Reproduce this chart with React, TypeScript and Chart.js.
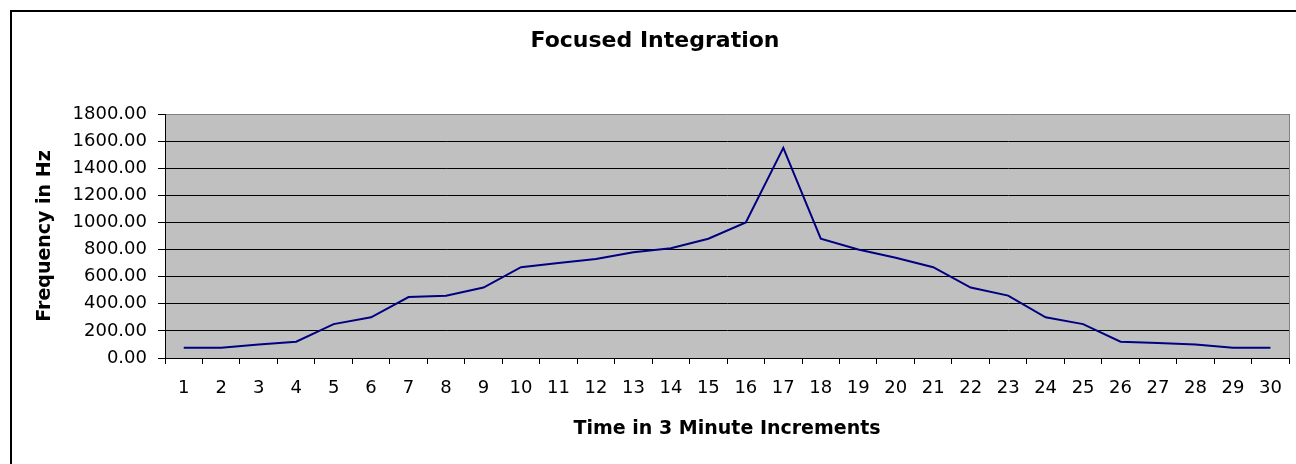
import React, { useEffect, useRef } from 'react';
import { Chart, registerables } from 'chart.js';

Chart.register(...registerables);

const CHART_TITLE = 'Focused Integration';
const X_TITLE = 'Time in 3 Minute Increments';
const Y_TITLE = 'Frequency in Hz';

const timeSteps = [
  '1', '2', '3', '4', '5', '6', '7', '8', '9', '10',
  '11', '12', '13', '14', '15', '16', '17', '18', '19', '20',
  '21', '22', '23', '24', '25', '26', '27', '28', '29', '30',
];

const frequencyHz = [
  75, 75, 100, 120, 250, 300, 450, 460, 520, 670,
  700, 730, 780, 810, 880, 1000, 1550, 880, 800, 740,
  670, 520, 460, 300, 250, 120, 110, 100, 75, 75,
];

const Y_MIN = 0;
const Y_MAX = 1800;
const Y_STEP = 200;

const FONT = "'DejaVu Sans', sans-serif";
const W = 1296;
const H = 464;

const framePlugin = {
  id: 'frame',
  beforeDraw(chart: any) {
    const { ctx, chartArea: a } = chart;
    ctx.save();
    ctx.fillStyle = '#ffffff';
    ctx.fillRect(0, 0, chart.width, chart.height);
    ctx.fillStyle = '#c0c0c0';
    ctx.fillRect(a.left, a.top, a.right - a.left, a.bottom - a.top);
    ctx.fillStyle = '#000000';
    ctx.fillRect(10, 10, 2, chart.height);
    ctx.fillRect(10, 10, chart.width, 2);
    ctx.restore();
  },
  beforeDatasetsDraw(chart: any) {
    const { ctx, chartArea: a } = chart;
    ctx.save();
    ctx.strokeStyle = '#808080';
    ctx.lineWidth = 1;
    ctx.beginPath();
    const x = Math.round(a.right) + 0.5;
    ctx.moveTo(x, a.top);
    ctx.lineTo(x, a.bottom);
    ctx.stroke();
    ctx.restore();
  },
};

export default function App() {
  const ref = useRef<HTMLCanvasElement | null>(null);

  useEffect(() => {
    if (!ref.current) return;
    const chart = new Chart(ref.current, {
      type: 'line',
      data: {
        labels: timeSteps,
        datasets: [
          {
            label: Y_TITLE,
            data: frequencyHz,
            borderColor: '#000080',
            backgroundColor: '#000080',
            borderWidth: 2,
            pointRadius: 0,
            pointHoverRadius: 0,
            tension: 0,
            fill: false,
          },
        ],
      },
      options: {
        responsive: false,
        animation: false,
        devicePixelRatio: 1,
        layout: { padding: { top: 12, left: 20, right: 6, bottom: 0 } },
        plugins: {
          legend: { display: false },
          tooltip: { enabled: false },
          title: {
            display: true,
            text: CHART_TITLE,
            color: '#000',
            font: { family: FONT, size: 22, weight: 'bold' },
            padding: { top: 16, bottom: 59.6 },
          },
        },
        scales: {
          x: {
            type: 'category',
            offset: true,
            afterFit: (s: any) => {
              s.height = 106;
            },
            grid: {
              offset: true,
              drawOnChartArea: false,
              drawTicks: true,
              tickLength: 6,
              color: '#000',
              tickColor: '#000',
            },
            border: { display: true, color: '#000', width: 1 },
            ticks: {
              color: '#000',
              font: { family: FONT, size: 18 },
              padding: 14,
              maxRotation: 0,
              minRotation: 0,
              autoSkip: false,
            },
            title: {
              display: true,
              text: X_TITLE,
              color: '#000',
              font: { family: FONT, size: 19, weight: 'bold' },
              padding: { top: 0, bottom: 24 },
            },
          },
          y: {
            min: Y_MIN,
            max: Y_MAX,
            afterFit: (s: any) => {
              s.width = 145;
            },
            grid: {
              drawTicks: true,
              tickLength: 7,
              color: (c: any) => (c.tick && c.tick.value === Y_MAX ? '#808080' : '#000'),
              tickColor: '#000',
              lineWidth: 1,
            },
            border: { display: true, color: '#000', width: 1 },
            ticks: {
              stepSize: Y_STEP,
              color: '#000',
              font: { family: FONT, size: 18 },
              padding: 11,
              callback: (v: any) => Number(v).toFixed(2),
            },
            title: {
              display: true,
              text: Y_TITLE,
              color: '#000',
              font: { family: FONT, size: 19, weight: 'bold' },
              padding: { top: 14, bottom: 0 },
            },
          },
        },
      },
      plugins: [framePlugin],
    });
    return () => chart.destroy();
  }, []);

  return (
    <div style={{ position: 'absolute', left: 0, top: 0, width: W, height: H, background: '#fff' }}>
      <canvas ref={ref} width={W} height={H} style={{ display: 'block', width: W, height: H }} />
    </div>
  );
}
